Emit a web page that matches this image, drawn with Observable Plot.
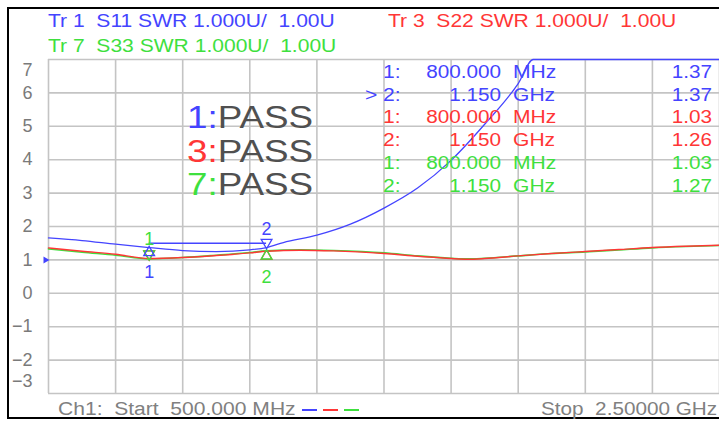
<!DOCTYPE html>
<html>
<head>
<meta charset="utf-8">
<script src="https://cdn.jsdelivr.net/npm/d3@7"></script>
<script src="https://cdn.jsdelivr.net/npm/@observablehq/plot@0.6"></script>
<style>
  body { margin: 0; background: #fff; font-family: "Liberation Sans", Arial, sans-serif; }
  #wrap { position: relative; width: 719px; height: 421px; overflow: hidden; background: #fff; }
  #frame { position: absolute; left: 7px; top: 7px; width: 760px; height: 408px; border: 2px solid #000; }
  #chart { position: absolute; left: 0; top: 0; }
  .t { position: absolute; white-space: pre; font-size: 18px; line-height: 20px; }
  .sx { display: inline-block; transform: scaleX(1.17); transform-origin: left center; }
  .sxr { display: inline-block; transform: scaleX(1.15); transform-origin: right center; }
  .pass { position: absolute; white-space: pre; font-size: 32px; line-height: 34px; left: 187px; }
  .pass span.w { color: #505050; }
  .seg { position: absolute; height: 2px; top: 409px; }
</style>
</head>
<body>
<div id="wrap">
  <div id="chart"></div>
  <div id="frame"></div>
  <div id="overlay"></div>
</div>
<script>
// ---------- data ----------
const startMHz = 500, stopMHz = 2500;
const xTicks = [500, 700, 900, 1100, 1300, 1500, 1700, 1900, 2100, 2300, 2500];
const yTicks = [-3, -2, -1, 0, 1, 2, 3, 4, 5, 6, 7];
const refLevel = 1;

const traceNames = ["Tr 1", "Tr 3", "Tr 7"];
const traceParams = ["S11", "S22", "S33"];
const traceFormat = "SWR 1.000U/  1.00U";
const traceColors = ["#4444ff", "#ff3636", "#3ee03e"];
const passText = ["1:", "3:", "7:"];

const freqS11 = [500, 600, 700, 800, 900, 1000, 1100, 1150, 1200, 1300, 1400, 1500, 1600, 1700, 1800, 1900, 1945, 2500];
const swrS11  = [1.66, 1.58, 1.47, 1.37, 1.28, 1.25, 1.30, 1.37, 1.52, 1.74, 2.07, 2.55, 3.15, 3.98, 5.06, 6.28, 7.0, 7.0];

const freqS22 = [500, 600, 700, 800, 900, 1000, 1100, 1150, 1250, 1350, 1500, 1600, 1700, 1750, 1800, 1900, 2000, 2100, 2200, 2300, 2400, 2500];
const swrS22  = [1.36, 1.26, 1.17, 1.04, 1.07, 1.13, 1.21, 1.26, 1.29, 1.27, 1.19, 1.11, 1.04, 1.02, 1.04, 1.12, 1.19, 1.25, 1.31, 1.37, 1.41, 1.44];

const freqS33 = [500, 600, 700, 800, 900, 1000, 1100, 1150, 1250, 1350, 1500, 1600, 1700, 1750, 1800, 1900, 2000, 2100, 2200, 2300, 2400, 2500];
const swrS33  = [1.33, 1.23, 1.14, 1.03, 1.07, 1.14, 1.22, 1.27, 1.30, 1.28, 1.21, 1.12, 1.05, 1.03, 1.05, 1.12, 1.19, 1.24, 1.30, 1.36, 1.40, 1.43];

const limitStartMHz = 800, limitStopMHz = 1150, limitSWR = 1.5;

const markerNums = [1, 2];
const markerMHz = [800, 1150];
const markerFreqText = ["800.000", "1.150"];
const markerUnits = ["MHz", "GHz"];
const markerS11 = [1.37, 1.37];
const markerS22 = [1.03, 1.26];
const markerS33 = [1.03, 1.27];

const footerStart = "Ch1:  Start  500.000 MHz";
const footerStop = "Stop  2.50000 GHz";

// ---------- build tables ----------
const zip = (fs, vs) => fs.map((f, i) => ({f, v: vs[i]}));
const s11 = zip(freqS11, swrS11);
const s22 = zip(freqS22, swrS22);
const s33 = zip(freqS33, swrS33);
const mk = vals => markerMHz.map((f, i) => ({f, v: vals[i], n: String(markerNums[i])}));
const m11 = mk(markerS11), m22 = mk(markerS22), m33 = mk(markerS33);
const [cB, cR, cG] = traceColors;

const chart = Plot.plot({
  width: 719,
  height: 421,
  marginLeft: 48,
  marginRight: 0,
  marginTop: 59,
  marginBottom: 28,
  x: {domain: [startMHz, stopMHz], axis: null},
  y: {domain: [yTicks[0], yTicks[yTicks.length - 1]], axis: null},
  style: {background: "transparent", fontFamily: "Liberation Sans, Arial, sans-serif"},
  marks: [
    Plot.gridX(xTicks, {stroke: "#c4c4c4", strokeOpacity: 1, strokeWidth: 1.6}),
    Plot.gridY(yTicks, {stroke: "#c4c4c4", strokeOpacity: 1, strokeWidth: 1.6}),
    Plot.axisY(yTicks.slice(1, -1), {tickSize: 0, tickPadding: 16, fontSize: 18, color: "#7a7a7a", label: null}),
    Plot.axisY(yTicks.slice(-1), {tickSize: 0, tickPadding: 16, fontSize: 18, color: "#7a7a7a", label: null, dy: 11}),
    Plot.axisY(yTicks.slice(0, 1), {tickSize: 0, tickPadding: 16, fontSize: 18, color: "#7a7a7a", label: null, dy: -12}),
    Plot.dot([refLevel], {x: () => startMHz, y: d => d, symbol: "triangle", rotate: 90, r: 2.6, fill: cB, stroke: "none", dx: -3}),
    Plot.ruleY([{y: limitSWR, x1: limitStartMHz, x2: limitStopMHz}], {y: "y", x1: "x1", x2: "x2", stroke: cB, strokeWidth: 1.4}),
    Plot.line(s33, {x: "f", y: "v", stroke: cG, strokeWidth: 1.6, curve: "monotone-x"}),
    Plot.line(s22, {x: "f", y: "v", stroke: cR, strokeWidth: 1.4, curve: "monotone-x"}),
    Plot.line(s11, {x: "f", y: "v", stroke: cB, strokeWidth: 1.3, curve: "monotone-x"}),
    // S22 / S33 markers
    Plot.dot(m22.filter(d => d.n === "1"), {x: "f", y: "v", symbol: "triangle", rotate: 180, r: 4, stroke: cR, fill: "none", strokeWidth: 1.3, dy: -5}),
    Plot.dot(m22.filter(d => d.n === "2"), {x: "f", y: "v", symbol: "triangle", r: 4, stroke: cR, fill: "none", strokeWidth: 1.3, dy: 5}),
    Plot.dot(m33.filter(d => d.n === "1"), {x: "f", y: "v", symbol: "triangle", rotate: 180, r: 4, stroke: cG, fill: "none", strokeWidth: 1.3, dy: -5}),
    Plot.dot(m33.filter(d => d.n === "2"), {x: "f", y: "v", symbol: "triangle", r: 4, stroke: cG, fill: "none", strokeWidth: 1.3, dy: 5}),
    Plot.text(m33.filter(d => d.n === "1"), {x: "f", y: "v", text: "n", fill: cG, fontSize: 18, dy: -20}),
    Plot.text(m33.filter(d => d.n === "2"), {x: "f", y: "v", text: "n", fill: cG, fontSize: 18, dy: 26}),
    // S11 markers
    Plot.dot(m11.filter(d => d.n === "1"), {x: "f", y: "v", symbol: "triangle", r: 4, stroke: cB, fill: "none", strokeWidth: 1.3, dy: 5}),
    Plot.dot(m11.filter(d => d.n === "2"), {x: "f", y: "v", symbol: "triangle", rotate: 180, r: 4, stroke: cB, fill: "none", strokeWidth: 1.3, dy: -5}),
    Plot.text(m11.filter(d => d.n === "1"), {x: "f", y: "v", text: "n", fill: cB, fontSize: 18, dy: 25}),
    Plot.text(m11.filter(d => d.n === "2"), {x: "f", y: "v", text: "n", fill: cB, fontSize: 18, dy: -18})
  ]
});
document.getElementById("chart").appendChild(chart);

// ---------- overlay texts ----------
const ov = document.getElementById("overlay");
function add(html, style, cls = "t") {
  const d = document.createElement("div");
  d.className = cls;
  Object.assign(d.style, style);
  d.innerHTML = html;
  ov.appendChild(d);
  return d;
}
const headerPos = [{left: "48px", top: "11px"}, {left: "388px", top: "11px"}, {left: "48px", top: "36px"}];
traceNames.forEach((n, i) => {
  add(`<span class="sx">${n}  ${traceParams[i]} ${traceFormat}</span>`, {...headerPos[i], color: traceColors[i]});
});

// PASS block
passText.forEach((p, i) => {
  add(`<span class="sx" style="transform:scaleX(1.15)"><span style="color:${traceColors[i]}">${p}</span><span class="w">PASS</span></span>`,
      {top: (100 + i * 33.5) + "px"}, "pass");
});

// marker table
const tableRows = [];
[markerS11, markerS22, markerS33].forEach((vals, t) => {
  vals.forEach((v, k) => tableRows.push({t, k, v}));
});
tableRows.forEach((r, i) => {
  const top = (62 + i * 22.7) + "px";
  const col = traceColors[r.t];
  if (r.t === 0 && r.k === 1) add(`<span class="sx">&gt;</span>`, {left: "365px", top, color: col});
  add(`<span class="sx">${markerNums[r.k]}:</span>`, {left: "383px", top, color: col});
  add(`<span class="sxr">${markerFreqText[r.k]}</span>`, {right: "218px", top, color: col, textAlign: "right"});
  add(`<span class="sx">${markerUnits[r.k]}</span>`, {left: "513px", top, color: col});
  add(`<span class="sxr">${r.v.toFixed(2)}</span>`, {right: "7px", top, color: col, textAlign: "right"});
});

// footer
add(`<span class="sx">${footerStart}</span>`, {left: "58px", top: "399px", color: "#808080"});
add(`<span class="sxr">${footerStop}</span>`, {right: "2px", top: "399px", color: "#808080", textAlign: "right"});
const segLeft = [302, 323, 344];
traceColors.forEach((c, i) => {
  const s = document.createElement("div");
  s.className = "seg";
  s.style.left = segLeft[i] + "px";
  s.style.width = "15px";
  s.style.background = c;
  ov.appendChild(s);
});
</script>
</body>
</html>
